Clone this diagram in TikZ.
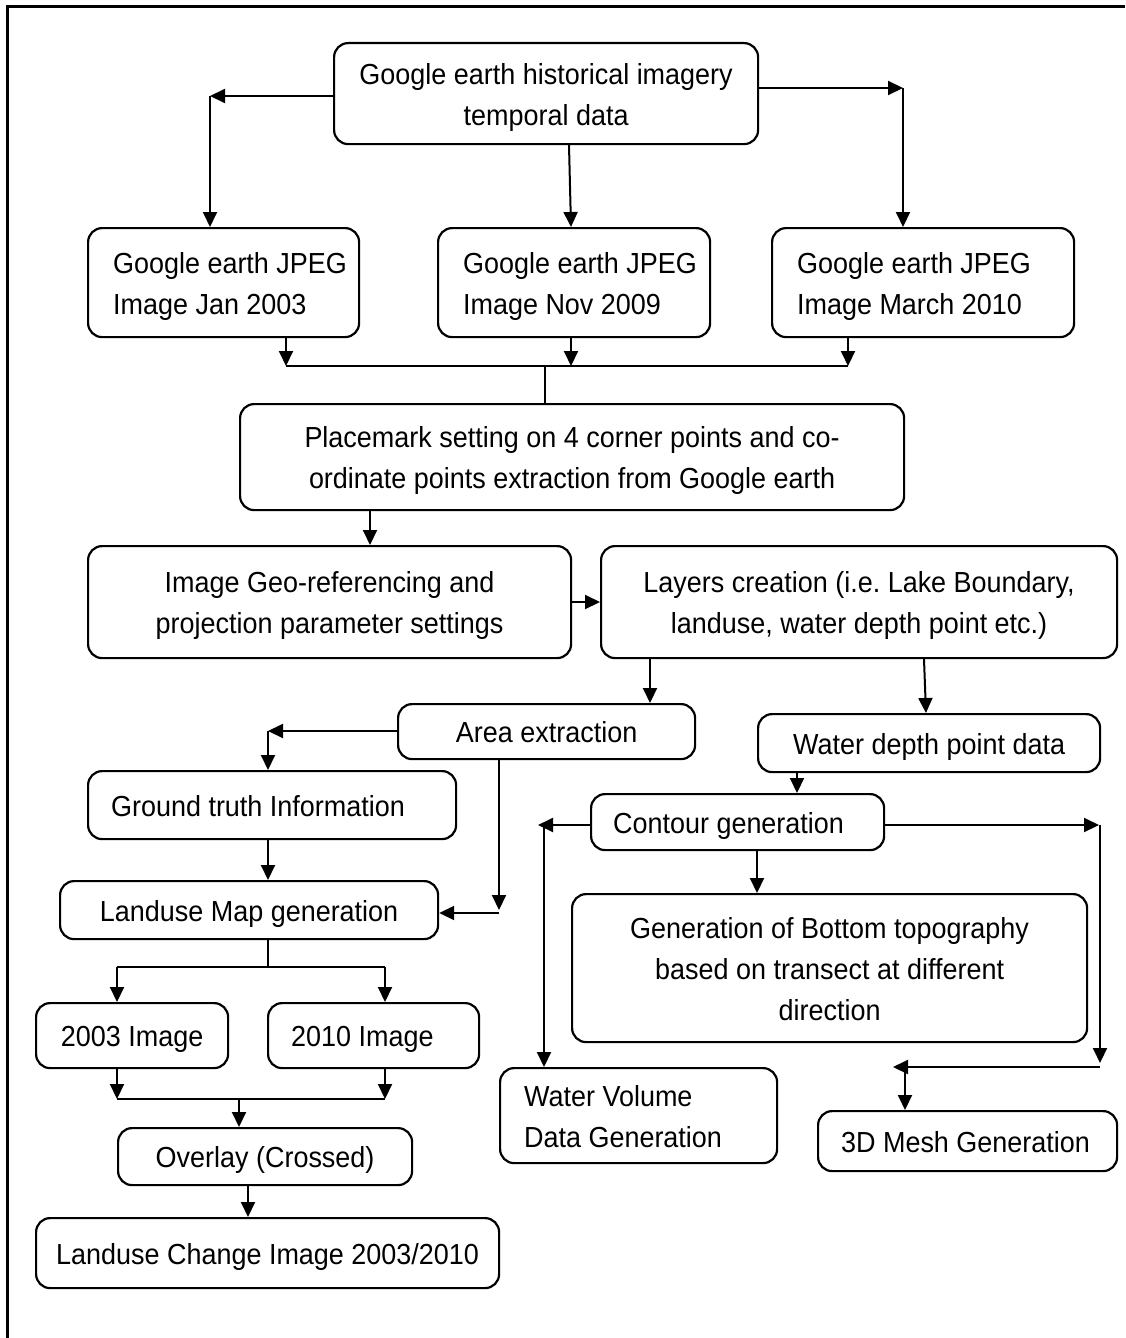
\documentclass[tikz,border=0pt]{standalone}
\usepackage{fontspec}
\setmainfont{Liberation Sans}[FakeStretch=0.93]
\usetikzlibrary{arrows.meta}
\frenchspacing
\tikzset{
  box/.style={draw, line width=2.2pt, rounded corners=14pt, inner sep=0pt,
    font=\fontsize{29}{41}\selectfont},
  arr/.style={line width=2pt, -{Triangle[length=15pt,width=14pt]}},
  ln/.style={line width=2pt},
  frame/.style={line width=3pt},
}
% name, x1, y1, x2, y2, alignment (l or c), left indent, text
\newcommand\mybox[8]{%
  \pgfmathsetmacro\bw{#4-#2}%
  \pgfmathsetmacro\bh{#5-#3}%
  \node[box, anchor=north west, minimum width=\bw pt, minimum height=\bh pt]
    (#1) at (#2,#3)
    {\makebox[\bw pt][#6]{\hspace*{#7pt}\raisebox{-3pt}[\height][\depth]{\begin{tabular}{@{}#6@{}}#8\end{tabular}}}};}
\begin{document}
\begin{tikzpicture}[x=1pt,y=-1pt]
\useasboundingbox (0,0) rectangle (1125,1338);
% frame (top and left edges)
\coordinate (f1) at (7,1338);
\coordinate (f2) at (7,7);
\coordinate (f3) at (1125,7);
\draw[frame] (f1) -- (f2) -- (f3);

\mybox{top}{333}{42}{757}{143}{c}{0}{Google earth historical imagery\\temporal data}
\mybox{a}{87}{227}{358}{336}{l}{25}{Google earth JPEG\\Image Jan 2003}
\mybox{b}{437}{227}{709}{336}{l}{25}{Google earth JPEG\\Image Nov 2009}
\mybox{c}{771}{227}{1073}{336}{l}{25}{Google earth JPEG\\Image March 2010}
\mybox{pm}{239}{403}{903}{509}{c}{0}{Placemark setting on 4 corner points and co-\\ordinate points extraction from Google earth}
\mybox{d}{87}{545}{570}{657}{c}{0}{Image Geo-referencing and\\projection parameter settings}
\mybox{e}{600}{545}{1116}{657}{c}{0}{Layers creation (i.e. Lake Boundary,\\landuse, water depth point etc.)}
\mybox{ar}{397}{703}{694}{758}{c}{0}{Area extraction}
\mybox{wd}{757}{713}{1099}{771}{c}{0}{Water depth point data}
\mybox{gt}{87}{770}{455}{838}{l}{23}{Ground truth Information}
\mybox{lu}{59}{880}{437}{938}{c}{0}{Landuse Map generation}
\mybox{i3}{35}{1002}{227}{1067}{c}{0}{2003 Image}
\mybox{i10}{267}{1002}{478}{1067}{l}{23}{2010 Image}
\mybox{ov}{117}{1127}{411}{1184}{c}{0}{Overlay (Crossed)}
\mybox{lc}{35}{1217}{498}{1287}{c}{0}{Landuse Change Image 2003/2010}
\mybox{co}{590}{793}{883}{849}{l}{22}{Contour generation}
\mybox{bt}{571}{893}{1086}{1041}{c}{0}{Generation of Bottom topography\\based on transect at different\\direction}
\mybox{wv}{499}{1067}{776}{1162}{l}{24}{Water Volume\\Data Generation}
\mybox{ms}{817}{1110}{1116}{1170}{l}{23}{3D Mesh Generation}

% top box to the three images
\coordinate (c1) at (210,96);
\draw[arr] (top.west |- c1) -- (c1);
\draw[arr] (c1) -- (a.north -| c1);
\coordinate (c2) at (903,88);
\draw[arr] (top.east |- c2) -- (c2);
\draw[arr] (c2) -- (c.north -| c2);
\draw[arr] (top.south -| 569,0) -- (b.north -| 571,0);

% merge of the three images
\coordinate (ja) at (286,366);
\coordinate (jb) at (571,366);
\coordinate (jc) at (848,366);
\coordinate (jm) at (545,366);
\draw[arr] (a.south -| ja) -- (ja);
\draw[arr] (b.south -| jb) -- (jb);
\draw[arr] (c.south -| jc) -- (jc);
\draw[ln] (ja) -- (jc);
\draw[ln] (jm) -- (pm.north -| jm);

\draw[arr] (pm.south -| 370,0) -- (d.north -| 370,0);
\draw[arr] (d.east |- 0,602) -- (e.west |- 0,602);
\draw[arr] (e.south -| 650,0) -- (ar.north -| 650,0);
\draw[arr] (e.south -| 924,0) -- (wd.north -| 926,0);

% left branch
\coordinate (c3) at (268,731);
\draw[arr] (ar.west |- c3) -- (c3);
\draw[arr] (c3) -- (gt.north -| c3);
\draw[arr] (gt.south -| 268,0) -- (lu.north -| 268,0);
\coordinate (c4) at (499,910);
\coordinate (c5) at (499,913);
\draw[arr] (ar.south -| c4) -- (c4);
\draw[arr] (c5) -- (lu.east |- c5);
\coordinate (c6) at (268,967);
\coordinate (c7) at (117,967);
\coordinate (c8) at (385,967);
\draw[ln] (lu.south -| c6) -- (c6);
\draw[ln] (c7) -- (c8);
\draw[arr] (c7) -- (i3.north -| c7);
\draw[arr] (c8) -- (i10.north -| c8);
\coordinate (c9) at (117,1099);
\coordinate (c10) at (385,1099);
\coordinate (c11) at (239,1099);
\draw[arr] (i3.south -| c9) -- (c9);
\draw[arr] (i10.south -| c10) -- (c10);
\draw[ln] (c9) -- (c10);
\draw[arr] (c11) -- (ov.north -| c11);
\draw[arr] (ov.south -| 248,0) -- (lc.north -| 248,0);

% right branch
\draw[arr] (wd.south -| 797,0) -- (co.north -| 797,0);
\coordinate (c12) at (538,825);
\coordinate (c13) at (544,825);
\draw[arr] (co.west |- c12) -- (c12);
\draw[arr] (c13) -- (wv.north -| c13);
\coordinate (c14) at (1099,825);
\coordinate (c15) at (1100,825);
\coordinate (c16) at (1100,1063);
\draw[arr] (co.east |- c14) -- (c14);
\draw[arr] (c15) -- (c16);
\coordinate (c17) at (1100,1067);
\coordinate (c18) at (893,1067);
\coordinate (c19) at (905,1067);
\draw[arr] (c17) -- (c18);
\draw[arr] (c19) -- (ms.north -| c19);
\draw[arr] (co.south -| 757,0) -- (bt.north -| 757,0);
\end{tikzpicture}
\end{document}
